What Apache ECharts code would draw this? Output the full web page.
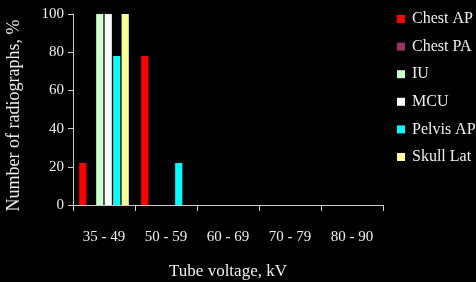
<!DOCTYPE html>
<html><head><meta charset="utf-8">
<script src="https://cdn.jsdelivr.net/npm/echarts@6/dist/echarts.min.js"></script>
<style>html,body{margin:0;padding:0;background:#000;}#c{width:476px;height:282px;}</style>
</head><body><div id="c"></div>
<script>
const categories = ['35 - 49', '50 - 59', '60 - 69', '70 - 79', '80 - 90'];
const seriesNames = ['Chest AP', 'Chest PA', 'IU', 'MCU', 'Pelvis AP', 'Skull Lat'];
const chestAP = [22, 78, 0, 0, 0];
const chestPA = [0, 0, 0, 0, 0];
const iu = [100, 0, 0, 0, 0];
const mcu = [100, 0, 0, 0, 0];
const pelvisAP = [78, 22, 0, 0, 0];
const skullLat = [100, 0, 0, 0, 0];
const yTicks = [0, 20, 40, 60, 80, 100];
const colors = ['#ff0000', '#993366', '#ccffcc', '#ffffff', '#00ffff', '#ffff99'];
const allData = [chestAP, chestPA, iu, mcu, pelvisAP, skullLat];

const font = 'Liberation Serif';
const chart = echarts.init(document.getElementById('c'));
chart.setOption({
  backgroundColor: '#000',
  animation: false,
  grid: { left: 73, top: 14, width: 310, height: 191, outerBoundsMode: 'none', containLabel: false },
  legend: {
    orient: 'vertical', left: 397, top: 11, padding: 0,
    itemWidth: 8, itemHeight: 8, itemGap: 11.6,
    icon: 'rect',
    textStyle: { color: '#eeeeee', fontFamily: font, fontSize: 16, padding: [0, 0, 0, 2] },
    data: seriesNames
  },
  xAxis: {
    type: 'category', data: categories,
    axisLine: { lineStyle: { color: '#cccccc', width: 1 } },
    axisTick: { show: true, length: 6, lineStyle: { color: '#cccccc' } },
    axisLabel: { color: '#eeeeee', fontFamily: font, fontSize: 15, margin: 25 },
    name: 'Tube voltage, kV', nameLocation: 'middle', nameGap: 58,
    nameTextStyle: { color: '#eeeeee', fontFamily: font, fontSize: 17 }
  },
  yAxis: {
    type: 'value', min: 0, max: 100, interval: 20,
    axisLine: { show: true, lineStyle: { color: '#cccccc' } },
    axisTick: { show: true, length: 5, lineStyle: { color: '#cccccc' } },
    splitLine: { show: false },
    axisLabel: { color: '#eeeeee', fontFamily: font, fontSize: 15, margin: 9,
      formatter: v => yTicks.includes(v) ? String(v) : '' },
    name: 'Number of radiographs, %', nameLocation: 'middle', nameGap: 50,
    nameTextStyle: { color: '#eeeeee', fontFamily: font, fontSize: 18, padding: [0, 12, 0, 0] }
  },
  series: seriesNames.map((n, i) => ({
    name: n, type: 'bar', data: allData[i],
    barGap: '18%', barCategoryGap: '20%',
    itemStyle: { color: colors[i] }
  }))
});
</script></body></html>
